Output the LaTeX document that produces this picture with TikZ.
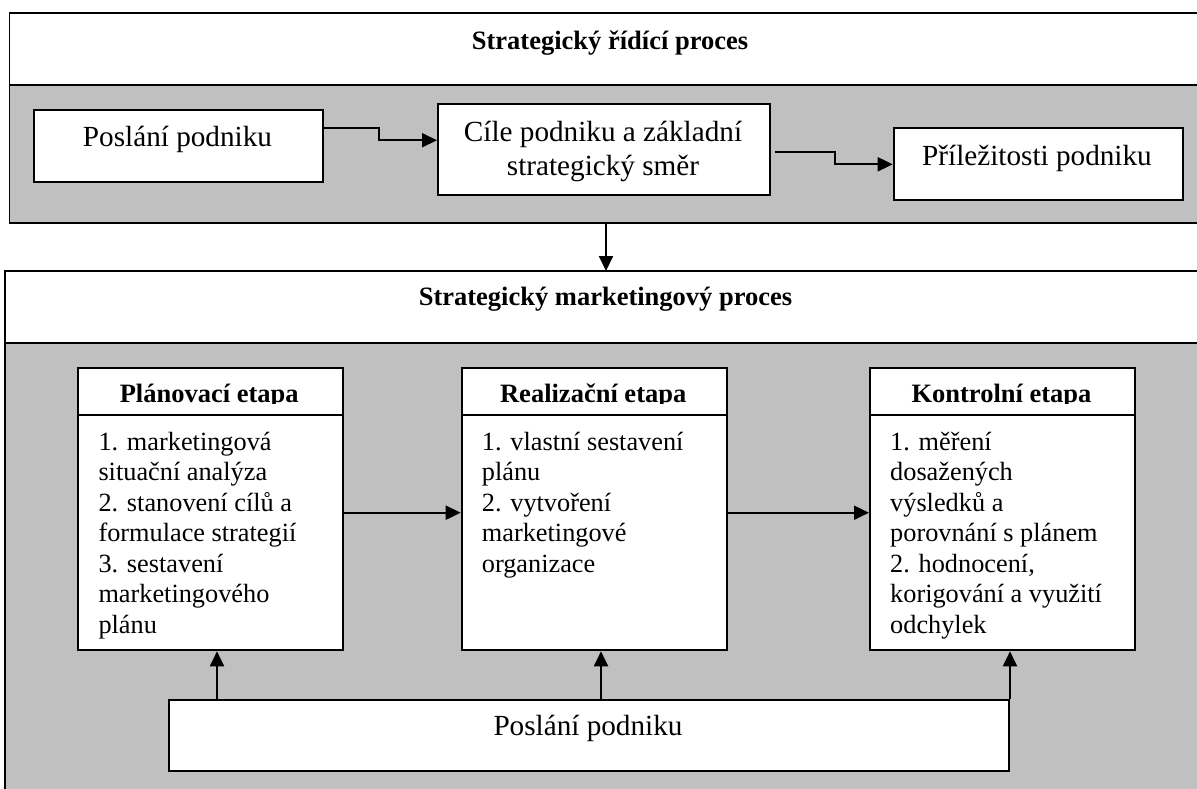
\documentclass[tikz,border=0pt]{standalone}
\usepackage{fontspec}
\setmainfont{Liberation Serif}
\usetikzlibrary{arrows.meta}
\definecolor{bg}{RGB}{192,192,192}
\tikzset{
 outerbox/.style={draw, line width=1.8pt, inner sep=0pt, outer sep=0pt, anchor=north west},
 box/.style={draw, fill=white, line width=2pt, inner sep=0pt, anchor=north west},
 arr/.style={line width=2pt, -{Triangle[length=15pt,width=14pt]}},
 lbl/.style={inner sep=0pt, anchor=base, font=\fontsize{29.2}{33.3}\selectfont},
 head/.style={inner sep=0pt, anchor=base, font=\fontsize{26.5}{30}\selectfont\bfseries},
 body/.style={inner sep=0pt, anchor=base west, font=\fontsize{26.3}{30.5}\selectfont},
}
\begin{document}
\begin{tikzpicture}[x=1pt,y=-1pt]
\clip (0,0) rectangle (1197,788);
\fill[white] (0,0) rectangle (1197,788);
% top outer box
\node[outerbox, fill=white, minimum width=1200.5pt, minimum height=72.3pt] (tophead) at (9.5,12.7) {};
\node[outerbox, fill=bg, minimum width=1200.5pt, minimum height=137.7pt] (topbody) at (9.5,85) {};
\node[head] (toptitle) at (610,49) {Strategický řídící proces};
% bottom outer box
\node[outerbox, fill=white, minimum width=1201.3pt, minimum height=72.3pt] (bothead) at (4.7,271) {};
\node[outerbox, fill=bg, minimum width=1201.3pt, minimum height=470pt] (botbody) at (4.7,343.3) {};
\node[head] (bottitle) at (605.5,305) {Strategický marketingový proces};
% top row boxes
\node[box, minimum width=289pt, minimum height=72pt] (p1) at (33,109) {};
\node[lbl] (p1t) at (177.5,146.7) {Poslání podniku};
\node[box, minimum width=332pt, minimum height=90.7pt] (cile) at (437,103.3) {};
\node[lbl] (cilet) at (603,141.7) {\begin{tabular}[t]{@{}c@{}}Cíle podniku a základní\\ strategický směr\end{tabular}};
\node[box, minimum width=289.3pt, minimum height=72pt] (pril) at (892.7,127.3) {};
\node[lbl] (prilt) at (1037,165) {Příležitosti podniku};
% top arrows
\draw[arr] ([yshift=18pt]p1.east) -- ++(55,0) |- ([yshift=9.4pt]cile.west);
\draw[arr] ([yshift=-2pt,xshift=3.7pt]cile.east) -- ++(60,0) |- (pril.west);
\draw[arr] (topbody.south -| 606,0) -- (bothead.north -| 606,0);
% stage boxes
\node[box, minimum width=265pt, minimum height=282pt] (plan) at (76.7,367.3) {};
\node[box, minimum width=265pt, minimum height=282pt] (real) at (460.7,367.3) {};
\node[box, minimum width=265pt, minimum height=282pt] (kont) at (869,367.3) {};
\foreach \n in {plan,real,kont}{
  \draw[line width=2pt] (\n.west |- 0,415) -- (\n.east |- 0,415);
}
\begin{scope}
\clip (60,360) rectangle (1150,403.7);
\node[head] (hplan) at (209.2,402.7) {Plánovací etapa};
\node[head] (hreal) at (593.2,402.7) {Realizační etapa};
\node[head] (hkont) at (1001.5,402.7) {Kontrolní etapa};
\end{scope}
\node[body] (bplan) at (98.3,450) {\begin{tabular}[t]{@{}l@{}}1. marketingová\\ situační analýza\\ 2. stanovení cílů a\\ formulace strategií\\ 3. sestavení\\ marketingového\\ plánu\end{tabular}};
\node[body] (breal) at (481.7,450) {\begin{tabular}[t]{@{}l@{}}1. vlastní sestavení\\ plánu\\ 2. vytvoření\\ marketingové\\ organizace\end{tabular}};
\node[body] (bkont) at (890,450) {\begin{tabular}[t]{@{}l@{}}1. měření\\ dosažených\\ výsledků a\\ porovnání s plánem\\ 2. hodnocení,\\ korigování a využití\\ odchylek\end{tabular}};
\draw[arr] ([yshift=-3.4pt]plan.east) -- ([yshift=-3.4pt]real.west);
\draw[arr] ([yshift=-3.4pt]real.east) -- ([yshift=-3.4pt]kont.west);
% bottom box
\node[box, minimum width=840pt, minimum height=70.5pt] (pos) at (168,699) {};
\node[lbl] (post) at (588,735) {Poslání podniku};
\draw[arr] (pos.north -| 217,0) -- (plan.south -| 217,0);
\draw[arr] (pos.north -| 601,0) -- (real.south -| 601,0);
\draw[arr] (pos.north east) -- (kont.south -| pos.north east);
\end{tikzpicture}
\end{document}
